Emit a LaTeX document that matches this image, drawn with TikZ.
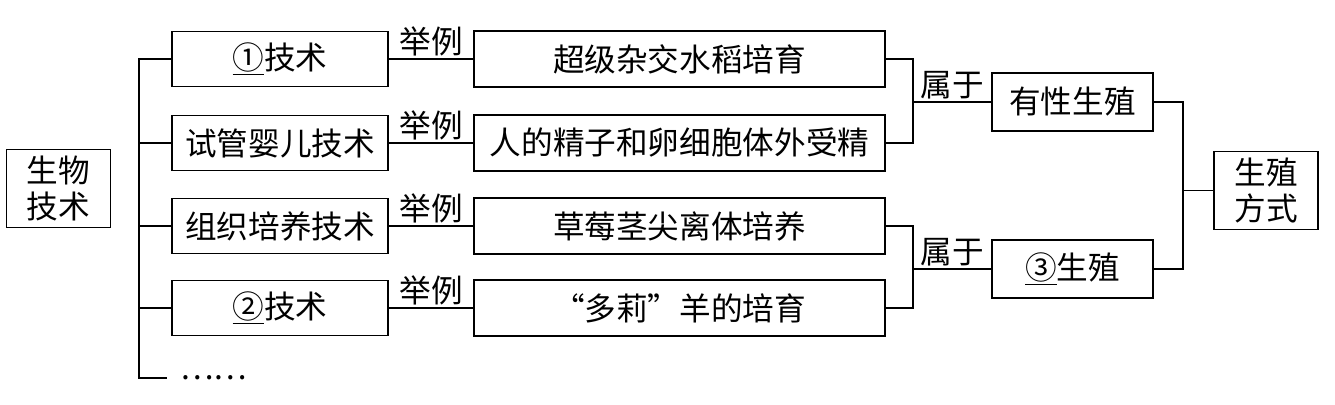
\documentclass[tikz,border=0pt]{standalone}
\usepackage{fontspec}
\setmainfont{Noto Sans CJK SC}
\usetikzlibrary{positioning}
\tikzset{
  block/.style={rectangle, draw, line width=0.8pt, minimum height=1.1cm, align=center, inner sep=2pt},
  tech/.style={block, minimum width=4.32cm},
  example/.style={block, minimum width=8.22cm, minimum height=1.12cm},
  mode/.style={block, minimum width=3.22cm, minimum height=1.16cm},
  topic/.style={block, minimum width=2.08cm, minimum height=1.56cm},
  link/.style={line width=0.8pt},
  tag/.style={above, inner sep=1.5pt}
}

\begin{document}
\begin{tikzpicture}[x=0.02cm, y=-0.02cm, font=\fontsize{18}{20.5}\selectfont]
  \useasboundingbox (0,0) rectangle (1335,405);

  \node[topic] (bio) at (58.5, 188.5) {生物\\技术};

  \node[tech] (tech1) at (280, 59) {\underline{①}技术};
  \node[tech] (tech2) at (280, 143) {试管婴儿技术};
  \node[tech] (tech3) at (280, 226) {组织培养技术};
  \node[tech] (tech4) at (280, 308) {\underline{②}技术};
  \node[anchor=west, inner sep=0pt] (dots) at (180, 378) {……};

  \node[example] (ex1) at (679.5, 59) {超级杂交水稻培育};
  \node[example] (ex2) at (679.5, 143) {人的精子和卵细胞体外受精};
  \node[example] (ex3) at (679.5, 226) {草莓茎尖离体培养};
  \node[example] (ex4) at (679.5, 308) {“多莉”羊的培育};

  \node[mode] (sexual) at (1072.5, 102) {有性生殖};
  \node[mode] (asexual) at (1072.5, 269) {\underline{③}生殖};
  \node[topic] (repro) at (1266, 190.5) {生殖\\方式};

  \coordinate (trunk) at (139, 59);
  \coordinate (more) at (167, 378);
  \coordinate (joinA) at (913, 102);
  \coordinate (joinB) at (913, 269);
  \coordinate (joinC) at (1183, 190.5);

  % technique branches
  \draw[link] (tech1.west) -- (trunk) -- (trunk |- more) -- (more);
  \draw[link] (tech2.west) -- (trunk |- tech2.west);
  \draw[link] (tech3.west) -- (trunk |- tech3.west);
  \draw[link] (tech4.west) -- (trunk |- tech4.west);

  \draw[link] (tech1) -- node[tag] {举例} (ex1);
  \draw[link] (tech2) -- node[tag] {举例} (ex2);
  \draw[link] (tech3) -- node[tag] {举例} (ex3);
  \draw[link] (tech4) -- node[tag] {举例} (ex4);

  % reproduction modes
  \draw[link] (ex1.east) -| (joinA) |- (ex2.east);
  \draw[link] (ex3.east) -| (joinB) |- (ex4.east);
  \draw[link] (joinA) -- node[tag] {属于} (sexual);
  \draw[link] (joinB) -- node[tag] {属于} (asexual);

  \draw[link] (sexual.east) -| (joinC) |- (asexual.east);
  \draw[link] (joinC) -- (repro);

\end{tikzpicture}
\end{document}
